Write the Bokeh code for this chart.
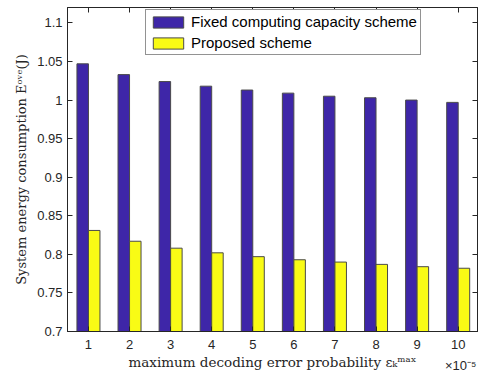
from bokeh.plotting import figure
from bokeh.models import (ColumnDataSource, LinearAxis, FixedTicker, Range1d,
                          Legend, LegendItem)
from bokeh.embed import file_html
from bokeh.resources import INLINE

# ---- data ----
eps = [1, 2, 3, 4, 5, 6, 7, 8, 9, 10]
fixed_scheme = [1.047, 1.033, 1.024, 1.018, 1.013, 1.009, 1.005, 1.003, 1.000, 0.997]
proposed_scheme = [0.831, 0.817, 0.808, 0.802, 0.797, 0.793, 0.790, 0.787, 0.784, 0.782]
y_ticks = [0.7, 0.75, 0.8, 0.85, 0.9, 0.95, 1.0, 1.05, 1.1]
y_tick_labels = ["0.7", "0.75", "0.8", "0.85", "0.9", "0.95", "1", "1.05", "1.1"]
series_names = ["Fixed computing capacity scheme", "Proposed scheme"]
x_multiplier = "\u00d710\u207b\u2075"

BLUE = "#3E26A8"
YELLOW = "#F9FB15"
EDGE = "#4a4a4a"
AX = "#262626"
TICK_FONT = "Liberation Sans"
LABEL_FONT = "DejaVu Serif"

bw = 0.28
src = ColumnDataSource(dict(
    x1=[e - bw / 2 for e in eps],
    x2=[e + bw / 2 for e in eps],
    f=fixed_scheme,
    p=proposed_scheme,
))

p = figure(width=484, height=377, output_backend="svg", toolbar_location=None,
           x_range=Range1d(0.49, 10.47), y_range=Range1d(0.7, 1.12),
           min_border_left=67, min_border_right=7, min_border_top=7,
           min_border_bottom=46)
p.xgrid.visible = False
p.ygrid.visible = False
p.outline_line_color = AX
p.outline_line_width = 1
p.background_fill_color = "white"
p.border_fill_color = "white"

r1 = p.vbar(x="x1", top="f", bottom=0.7, width=bw, source=src,
            fill_color=BLUE, line_color=EDGE, line_width=1)
r2 = p.vbar(x="x2", top="p", bottom=0.7, width=bw, source=src,
            fill_color=YELLOW, line_color=EDGE, line_width=1)

def style_axis(ax, labels=True):
    ax.axis_line_color = AX
    ax.major_tick_line_color = AX
    ax.major_tick_in = 5
    ax.major_tick_out = 0
    ax.minor_tick_line_color = None
    ax.major_label_text_font = TICK_FONT
    ax.major_label_text_font_size = "13px"
    ax.major_label_text_color = AX
    ax.major_label_text_font_style = "normal"
    if not labels:
        ax.major_label_text_font_size = "0px"
        ax.major_label_text_alpha = 0

xa = p.xaxis[0]
xa.ticker = FixedTicker(ticks=eps)
style_axis(xa)
xa.major_label_standoff = 8
xa.axis_label = "maximum decoding error probability \u03b5\u2096\u1d50\u1d43\u02e3"
xa.axis_label_text_font = LABEL_FONT
xa.axis_label_text_font_size = "13.5px"
xa.axis_label_text_font_style = "normal"
xa.axis_label_text_color = AX
xa.axis_label_standoff = 2

# multiplier "x10^-5" drawn as the only tick label of an extra, line-less axis
mult = LinearAxis(ticker=FixedTicker(ticks=[10.06]))
mult.major_label_overrides = {10.06: x_multiplier}
mult.axis_line_color = None
mult.major_tick_line_color = None
mult.minor_tick_line_color = None
mult.major_tick_in = 0
mult.major_tick_out = 0
mult.major_label_standoff = -15
mult.major_label_text_font = TICK_FONT
mult.major_label_text_font_size = "13px"
mult.major_label_text_color = AX
p.add_layout(mult, "below")

ya = p.yaxis[0]
ya.ticker = FixedTicker(ticks=y_ticks)
ya.major_label_overrides = {t: l for t, l in zip(y_ticks, y_tick_labels)}
style_axis(ya)
ya.major_label_standoff = 5
ya.axis_label = "System energy consumption E\u1d52\u1d5b\u1d49(J)"
ya.axis_label_text_font = LABEL_FONT
ya.axis_label_text_font_size = "13px"
ya.axis_label_text_font_style = "normal"
ya.axis_label_text_color = AX
ya.axis_label_standoff = 5

top = LinearAxis(ticker=FixedTicker(ticks=eps))
style_axis(top, labels=False)
p.add_layout(top, "above")
right = LinearAxis(ticker=FixedTicker(ticks=y_ticks))
style_axis(right, labels=False)
p.add_layout(right, "right")

legend = Legend(items=[LegendItem(label=series_names[0], renderers=[r1]),
                       LegendItem(label=series_names[1], renderers=[r2])],
                location=(78, 276))
legend.label_text_font = TICK_FONT
legend.label_text_font_size = "15px"
legend.label_text_color = "black"
legend.glyph_width = 38
legend.glyph_height = 14
legend.label_height = 14
legend.spacing = 4
legend.padding = 3
legend.margin = 0
legend.label_standoff = 4
legend.border_line_color = AX
legend.border_line_width = 1
legend.background_fill_alpha = 1
p.add_layout(legend, "center")

open("out.html", "w").write(file_html(p, INLINE))
